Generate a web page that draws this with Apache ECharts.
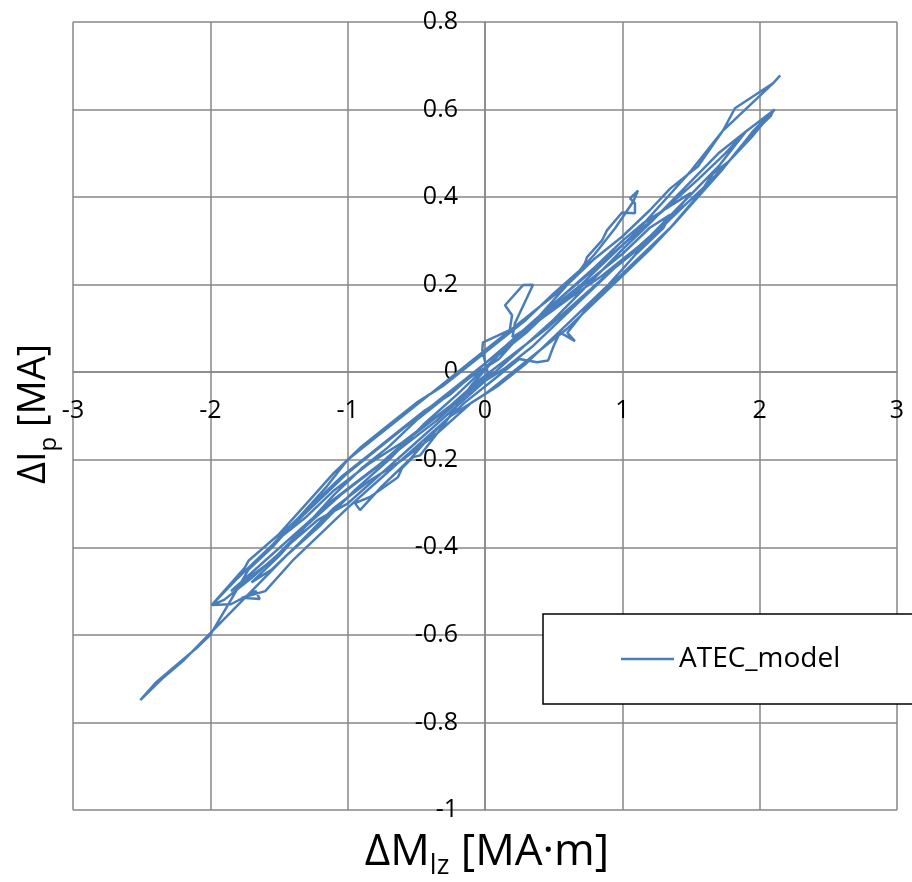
<!DOCTYPE html>
<html>
<head>
<meta charset="utf-8">
<script src="https://cdn.jsdelivr.net/npm/echarts@6/dist/echarts.min.js"></script>
<style>
html,body{margin:0;padding:0;background:#fff;}
#chart{width:912px;height:882px;}
</style>
</head>
<body>
<div id="chart"></div>
<script>
// ---- data ----
var seriesName = 'ATEC_model';
var xTicks = [-3, -2, -1, 0, 1, 2, 3];
var yTicks = [-1, -0.8, -0.6, -0.4, -0.2, 0, 0.2, 0.4, 0.6, 0.8];
// ΔMlz [MA·m] in path order
var mlzValues = [
  0.02,-0.02,-0.015,0.18,0.197,0.146,0.277,0.35,0.218,0.2,0.4,0.62,0.85,1.05,1.25,1.45,1.62,1.8,1.95,2.1,
  2.08,1.9,1.72,1.55,1.38,1.2,1.0,0.8,0.6,0.4,0.2,0.0,-0.25,-0.5,-0.75,-1.0,-1.2,-1.4,-1.6,-1.77,-1.64,-1.67,-1.85,-1.99,
  -1.9,-1.75,-1.72,-1.5,-1.3,-1.1,-0.9,-0.7,-0.5,-0.3,-0.1,0.1,0.3,0.5,0.692,0.728,0.743,0.852,0.888,0.998,1.092,1.092,1.056,1.114,
  1.08,0.95,0.8,0.6,0.4,0.2,0.0,-0.2,-0.45,-0.7,-0.95,-1.2,-1.45,-1.7,-1.95,-2.2,-2.35,-2.51,
  -2.4,-2.25,-2.1,-2.0,-1.85,-1.72,-1.55,-1.35,-1.15,-1.0,-0.8,-0.6,-0.4,-0.2,0.0,0.2,0.4,0.6,0.8,1.0,1.2,1.35,1.55,1.733,1.82,2.097,2.15,
  2.097,1.733,1.5,1.3,1.1,0.9,0.7,0.5,0.3,0.1,-0.1,-0.3,-0.473,-0.524,-0.604,-0.634,-0.837,-0.947,-0.91,
  -0.75,-0.55,-0.35,-0.15,0.05,0.25,0.38,0.46,0.5,0.546,0.655,0.6,0.75,0.95,1.15,1.35,1.566,1.66,1.77,1.95,2.11,
  1.9,1.7,1.45,1.2,1.0,0.75,0.5,0.25,0.0,-0.25,-0.5,-0.75,-1.0,-1.22,-1.45,-1.7,-1.9,-1.99,
  -1.8,-1.6,-1.4,-1.2,-1.0,-0.8,-0.6,-0.4,-0.2,0.0,0.2,0.4,0.6,0.8,1.0,1.2,1.35,1.3,
  1.1,0.9,0.7,0.5,0.3,0.1,-0.1,-0.35,-0.6,-0.85,-1.1,-1.35,-1.55,-1.7,-1.5,-1.3,-1.1,-0.9,-0.7,-0.5,-0.3,-0.1,0.1,
  0.3,0.55,0.8,1.0,1.15,1.3,1.45,1.5,1.35,1.15,0.95,0.75,0.55,0.35,0.15,-0.1,-0.35,-0.6,-0.85,-1.1,-1.3,-1.5,-1.65,
  -1.45,-1.25,-1.05,-0.85,-0.65,-0.45,-0.25,0.0,0.15,
  0.4,0.7,1.0,1.3,1.55,1.75,1.9,1.7,1.45,1.2,0.95,0.7,0.45,0.2,-0.05,-0.3,-0.55,-0.8,-1.05,-1.3,-1.55,-1.85,
  -1.6,-1.35,-1.1,-0.85,-0.6,-0.35,-0.1,0.05
];
// ΔIp [MA] in the same order
var ipValues = [
  0.0,0.05,0.068,0.096,0.13,0.153,0.199,0.2,0.112,0.08,0.12,0.17,0.22,0.27,0.32,0.38,0.43,0.49,0.55,0.598,
  0.585,0.53,0.46,0.4,0.34,0.28,0.22,0.16,0.1,0.05,0.0,-0.05,-0.1,-0.17,-0.24,-0.31,-0.37,-0.43,-0.5,-0.515,-0.518,-0.5,-0.53,-0.532,
  -0.5,-0.447,-0.43,-0.37,-0.3,-0.23,-0.17,-0.12,-0.07,-0.03,0.02,0.07,0.12,0.18,0.233,0.249,0.263,0.301,0.324,0.365,0.363,0.386,0.397,0.415,
  0.39,0.33,0.27,0.2,0.13,0.07,0.01,-0.05,-0.12,-0.2,-0.27,-0.35,-0.42,-0.5,-0.58,-0.66,-0.7,-0.749,
  -0.71,-0.67,-0.63,-0.6,-0.52,-0.45,-0.4,-0.33,-0.26,-0.2,-0.15,-0.1,-0.05,0.0,0.05,0.1,0.15,0.2,0.26,0.31,0.37,0.42,0.47,0.552,0.603,0.66,0.678,
  0.66,0.552,0.46,0.39,0.32,0.26,0.2,0.15,0.09,0.04,-0.03,-0.12,-0.19,-0.194,-0.219,-0.24,-0.285,-0.299,-0.315,
  -0.26,-0.2,-0.13,-0.07,-0.02,0.03,0.023,0.027,0.06,0.091,0.071,0.09,0.15,0.21,0.27,0.33,0.409,0.454,0.48,0.54,0.6,
  0.55,0.5,0.42,0.34,0.28,0.2,0.12,0.05,-0.02,-0.09,-0.16,-0.23,-0.3,-0.338,-0.4,-0.47,-0.52,-0.532,
  -0.47,-0.41,-0.35,-0.29,-0.23,-0.18,-0.13,-0.08,-0.03,0.02,0.07,0.12,0.17,0.22,0.27,0.33,0.36,0.33,
  0.27,0.2,0.14,0.08,0.02,-0.03,-0.07,-0.14,-0.2,-0.25,-0.31,-0.39,-0.45,-0.48,-0.42,-0.35,-0.28,-0.22,-0.17,-0.11,-0.06,-0.01,0.03,
  0.1,0.17,0.24,0.3,0.34,0.37,0.4,0.41,0.35,0.29,0.24,0.18,0.12,0.06,0.01,-0.04,-0.1,-0.16,-0.21,-0.27,-0.33,-0.38,-0.43,
  -0.36,-0.3,-0.24,-0.19,-0.14,-0.09,-0.05,0.02,0.06,
  0.13,0.21,0.29,0.37,0.44,0.5,0.55,0.47,0.39,0.31,0.24,0.17,0.1,0.04,-0.02,-0.09,-0.15,-0.22,-0.28,-0.35,-0.43,-0.5,
  -0.43,-0.36,-0.29,-0.23,-0.17,-0.11,-0.04,0.0
];

var points = mlzValues.map(function (x, i) { return [x, ipValues[i]]; });

var FONT = 'Open Sans';
var GRID_L = 73, GRID_R = 15, GRID_T = 22, GRID_B = 72;
var chart = echarts.init(document.getElementById('chart'), null, {renderer: 'canvas'});
var fmt = function (v) { return String(Math.round(v * 10) / 10); };

// axes cross at the origin: shift them from the grid edge to value 0
var plotW = 912 - GRID_L - GRID_R, plotH = 882 - GRID_T - GRID_B;
var yZeroFromBottom = (0 - yTicks[0]) / (yTicks[yTicks.length - 1] - yTicks[0]) * plotH;
var xZeroFromLeft = (0 - xTicks[0]) / (xTicks[xTicks.length - 1] - xTicks[0]) * plotW;

chart.setOption({
  animation: false,
  backgroundColor: '#ffffff',
  grid: {left: GRID_L, right: GRID_R, top: GRID_T, bottom: GRID_B, containLabel: false},
  xAxis: {
    type: 'value', position: 'bottom', offset: -yZeroFromBottom,
    min: xTicks[0], max: xTicks[xTicks.length - 1], interval: 1,
    axisLine: {show: true, onZero: false, lineStyle: {color: '#878787', width: 1.5}},
    axisTick: {show: false},
    splitLine: {show: true, lineStyle: {color: '#878787', width: 1.5}},
    axisLabel: {show: true, margin: 26, color: '#000', fontFamily: FONT, fontSize: 25, formatter: fmt,
                showMinLabel: true, showMaxLabel: true}
  },
  yAxis: {
    type: 'value', position: 'left', offset: -xZeroFromLeft,
    min: yTicks[0], max: yTicks[yTicks.length - 1], interval: 0.2,
    axisLine: {show: true, onZero: false, lineStyle: {color: '#878787', width: 1.5}},
    axisTick: {show: false},
    splitLine: {show: true, lineStyle: {color: '#878787', width: 1.5}},
    axisLabel: {show: true, margin: 27, color: '#000', fontFamily: FONT, fontSize: 25, formatter: fmt,
                showMinLabel: true, showMaxLabel: true}
  },
  legend: {
    show: true,
    left: 543, top: 614,
    orient: 'horizontal',
    padding: [30, 120, 30, 78],
    itemWidth: 53, itemHeight: 14,
    backgroundColor: '#ffffff',
    borderColor: '#000000', borderWidth: 1.5, borderRadius: 0,
    textStyle: {fontFamily: FONT, fontSize: 28, color: '#000', lineHeight: 30},
    data: [{name: seriesName, icon: 'path://M0,6L53,6L53,8.5L0,8.5Z'}]
  },
  series: [{
    name: seriesName,
    type: 'line',
    data: points,
    showSymbol: false,
    symbol: 'none',
    clip: true,
    lineStyle: {color: '#4a7ebb', width: 2.5},
    itemStyle: {color: '#4a7ebb'},
    z: 3
  }],
  graphic: [
    {
      type: 'text', x: 487, y: 830, z: 10,
      style: {
        text: '{a|ΔM}{s|lz}{a| [MA·m]}',
        align: 'center',
        fill: '#000',
        rich: {
          a: {fontFamily: FONT, fontSize: 44, lineHeight: 50, verticalAlign: 'top', fill: '#000'},
          s: {fontFamily: FONT, fontSize: 27, lineHeight: 26, verticalAlign: 'bottom', fill: '#000'}
        }
      }
    },
    {
      type: 'text', x: 38, y: 414, rotation: Math.PI / 2, z: 10,
      style: {
        text: '{a|ΔI}{s|p}{a| [MA]}',
        align: 'center', verticalAlign: 'middle',
        fill: '#000',
        rich: {
          a: {fontFamily: FONT, fontSize: 38, lineHeight: 46, verticalAlign: 'top', fill: '#000'},
          s: {fontFamily: FONT, fontSize: 24, lineHeight: 24, verticalAlign: 'bottom', fill: '#000'}
        }
      }
    }
  ]
});
</script>
</body>
</html>
